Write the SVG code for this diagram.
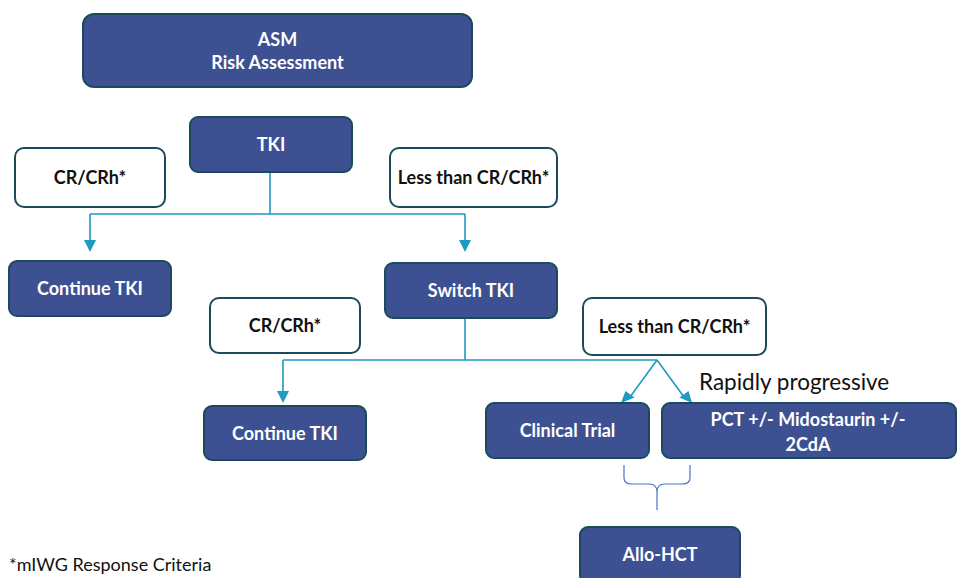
<svg xmlns="http://www.w3.org/2000/svg" width="959" height="578" viewBox="0 0 959 578">
<style>
.dark{fill:#3d5192;stroke:#1d4a5a;stroke-width:2}
.light{fill:#fff;stroke:#1d4a5a;stroke-width:2}
.wt{fill:#fff;font-family:Lato,"Liberation Sans",sans-serif;font-weight:bold;font-size:18px;text-anchor:middle}
.bt{fill:#111;font-family:Lato,"Liberation Sans",sans-serif;font-weight:bold;font-size:18px;text-anchor:middle}
.con{fill:none;stroke:#1f9ac0;stroke-width:1.6}
.ah{fill:#1f9ac0}
.brace{fill:none;stroke:#4a72c6;stroke-width:1.2}
</style>
<rect width="959" height="578" fill="#fff"/>
<g id="connectors">
<path class="con" d="M270,172 V214"/>
<path class="con" d="M90,214 H465"/>
<path class="con" d="M90,214 V242"/>
<path class="ah" d="M84,240 L96,240 L90,252 z"/>
<path class="con" d="M465,214 V242"/>
<path class="ah" d="M459,240 L471,240 L465,252 z"/>
<path class="con" d="M465,318 V360"/>
<path class="con" d="M283,360 H657"/>
<path class="con" d="M283,360 V392"/>
<path class="ah" d="M277,391 L289,391 L283,403 z"/>
<path class="con" d="M657,360 L630,397"/>
<path class="ah" d="M621,403 L625.5,391 L634.5,397.5 z"/>
<path class="con" d="M657,360 L684,397"/>
<path class="ah" d="M692,403 L679.5,397.5 L688.5,391 z"/>
<path class="brace" d="M624,465 V478 Q624,484 632,484 H649 Q657,484 657,492 V510 M657,492 Q657,484 665,484 H682 Q690,484 690,478 V465"/>
</g>
<g id="asm"><rect class="dark" x="83" y="14" width="389" height="73" rx="11"/><text class="wt" x="277.5" y="46">ASM</text><text class="wt" x="277.5" y="69">Risk Assessment</text></g>
<g id="tki"><rect class="dark" x="190" y="117" width="162" height="55" rx="8"/><text class="wt" x="271" y="151">TKI</text></g>
<g id="cr1"><rect class="light" x="15" y="148" width="150" height="59" rx="9"/><text class="bt" x="90" y="184">CR/CRh*</text></g>
<g id="lt1"><rect class="light" x="390" y="148" width="167" height="59" rx="9"/><text class="bt" x="473.5" y="184">Less than CR/CRh*</text></g>
<g id="cont1"><rect class="dark" x="9" y="261" width="162" height="55" rx="8"/><text class="wt" x="90" y="295">Continue TKI</text></g>
<g id="switch"><rect class="dark" x="385" y="263" width="172" height="55" rx="8"/><text class="wt" x="471" y="297">Switch TKI</text></g>
<g id="cr2"><rect class="light" x="210" y="298" width="150" height="55" rx="9"/><text class="bt" x="285" y="332">CR/CRh*</text></g>
<g id="lt2"><rect class="light" x="583" y="298" width="183" height="57" rx="9"/><text class="bt" x="674.5" y="333">Less than CR/CRh*</text></g>
<g id="rapid"><text x="699" y="390" style="fill:#111;font-family:Lato,'Liberation Sans',sans-serif;font-size:22.5px">Rapidly progressive</text></g>
<g id="cont2"><rect class="dark" x="204" y="406" width="162" height="54" rx="8"/><text class="wt" x="285" y="440">Continue TKI</text></g>
<g id="trial"><rect class="dark" x="486" y="403" width="163" height="55" rx="8"/><text class="wt" x="567.5" y="437">Clinical Trial</text></g>
<g id="pct"><rect class="dark" x="662" y="403" width="294" height="55" rx="8"/><text class="wt" x="808" y="426">PCT +/- Midostaurin +/-</text><text class="wt" x="808" y="451">2CdA</text></g>
<g id="allo"><rect class="dark" x="580" y="527" width="160" height="56" rx="8"/><text class="wt" x="660" y="561">Allo-HCT</text></g>
<g id="footnote"><text x="9" y="571" style="fill:#111;font-family:Lato,'Liberation Sans',sans-serif;font-size:18px">*mIWG Response Criteria</text></g>
</svg>
